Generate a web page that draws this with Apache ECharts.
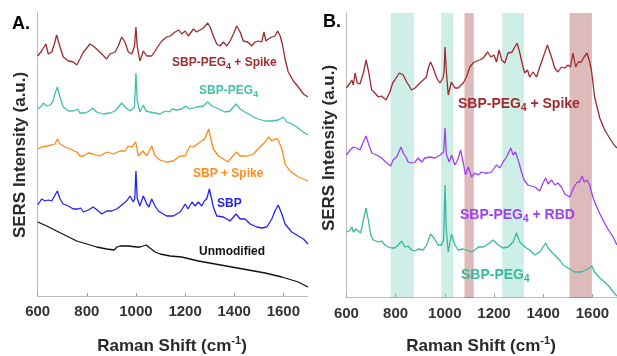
<!DOCTYPE html>
<html><head><meta charset="utf-8">
<script src="https://cdn.jsdelivr.net/npm/echarts@6/dist/echarts.min.js"></script>
<style>html,body{margin:0;padding:0;background:#fff}#c{width:617px;height:356px}</style>
</head><body><div id="c"></div>
<script>
// Raman shift (cm-1) vs intensity (a.u., arbitrary offset units)
const X_MIN = 600, X_MAX = 1700, X_STEP = 200;

// Panel A
const A_PEG_SPIKE = [[600,240],[616,245],[623,244],[633,252],[643,242],[657,244],[668,252],[677,261],[691,249],[704,239],[725,235],[745,234],[759,231],[772,237],[786,244],[800,248],[813,252],[826,250],[840,247],[861,242],[881,237],[894,242],[915,244],[928,250],[942,259],[955,254],[969,244],[983,242],[994,250],[1000,269],[1005,250],[1016,235],[1030,245],[1044,240],[1064,240],[1078,245],[1091,250],[1105,255],[1125,259],[1139,260],[1159,264],[1175,266],[1186,262],[1200,265],[1213,260],[1234,267],[1247,264],[1268,267],[1278,269],[1292,273],[1302,269],[1315,260],[1329,252],[1342,250],[1356,254],[1370,250],[1383,255],[1397,262],[1410,270],[1424,264],[1437,255],[1455,254],[1471,250],[1485,254],[1498,255],[1512,254],[1521,264],[1529,255],[1539,257],[1553,259],[1566,260],[1577,265],[1587,260],[1596,252],[1607,237],[1620,224],[1641,215],[1661,209],[1682,202],[1700,199]];
const A_PEG = [[600,187],[616,190],[623,193],[637,190],[650,191],[661,194],[670,202],[680,209],[691,199],[704,189],[725,185],[745,185],[763,187],[772,183],[793,183],[810,185],[824,188],[840,184],[867,182],[894,183],[915,185],[928,189],[942,193],[955,189],[976,185],[994,189],[1000,223],[1005,196],[1016,184],[1030,191],[1041,185],[1057,184],[1078,183],[1098,182],[1111,184],[1125,185],[1139,184],[1146,187],[1166,186],[1186,187],[1203,190],[1220,187],[1247,189],[1274,190],[1292,194],[1309,190],[1336,187],[1363,184],[1383,185],[1397,189],[1407,192],[1424,187],[1444,184],[1471,180],[1498,177],[1526,175],[1553,175],[1580,176],[1600,179],[1614,174],[1634,172],[1655,169],[1675,165],[1700,161]];
const A_SBP_SPIKE = [[600,147],[616,149],[637,150],[657,151],[670,152],[680,157],[691,152],[711,149],[732,147],[759,144],[772,140],[786,140],[806,143],[826,142],[854,140],[881,144],[908,142],[935,145],[955,145],[969,150],[983,149],[999,154],[1010,140],[1028,145],[1044,140],[1064,150],[1078,140],[1098,136],[1125,134],[1152,135],[1180,140],[1200,140],[1220,150],[1234,149],[1261,154],[1280,157],[1296,167],[1305,157],[1315,147],[1336,140],[1356,137],[1375,134],[1391,139],[1410,144],[1424,140],[1451,140],[1478,142],[1505,149],[1526,154],[1539,159],[1553,155],[1566,157],[1577,157],[1594,147],[1607,132],[1627,125],[1661,119],[1682,117],[1700,115]];
const A_SBP = [[600,91],[616,97],[630,95],[643,96],[657,95],[666,99],[680,105],[691,97],[704,92],[725,90],[745,87],[765,87],[775,88],[786,84],[806,86],[826,89],[847,85],[861,82],[881,85],[901,85],[922,87],[942,91],[962,95],[976,100],[989,94],[995,97],[1000,125],[1005,98],[1016,90],[1030,100],[1044,92],[1053,89],[1064,97],[1078,90],[1091,85],[1111,82],[1125,80],[1152,80],[1180,84],[1201,92],[1212,87],[1228,94],[1241,90],[1254,94],[1268,90],[1278,95],[1288,97],[1299,107],[1315,89],[1329,80],[1356,79],[1383,75],[1397,79],[1408,82],[1424,77],[1444,77],[1465,72],[1492,69],[1512,68],[1533,69],[1553,77],[1566,85],[1579,91],[1594,82],[1607,72],[1634,64],[1661,60],[1682,57],[1700,52]];
const A_UNMOD = [[600,74],[637,70],[677,65],[718,60],[759,55],[800,52],[840,49],[881,47],[911,46],[923,49],[935,50],[968,50],[1003,49],[1017,49],[1025,51],[1041,51],[1057,48],[1078,44],[1098,42],[1139,40],[1186,39],[1254,35],[1322,32],[1390,29],[1458,26],[1526,23],[1594,19],[1661,14],[1700,9]];

// Panel B
const B_PEG_SPIKE = [[600,209],[615,214],[622,217],[628,212],[635,224],[644,214],[655,213],[669,224],[680,237],[689,227],[703,207],[716,204],[730,200],[743,201],[761,197],[777,205],[788,214],[797,217],[815,224],[831,222],[845,215],[865,207],[879,209],[899,214],[925,220],[933,229],[942,235],[953,229],[967,219],[980,214],[993,219],[997,225],[1001,250],[1006,226],[1014,202],[1027,215],[1041,209],[1054,209],[1075,214],[1088,220],[1102,230],[1115,234],[1129,236],[1142,237],[1156,239],[1174,245],[1187,240],[1200,242],[1210,235],[1221,247],[1231,237],[1244,234],[1257,244],[1274,245],[1282,249],[1294,254],[1305,244],[1318,230],[1325,224],[1336,227],[1345,220],[1359,225],[1373,220],[1386,230],[1399,239],[1417,252],[1431,242],[1447,229],[1460,225],[1474,230],[1488,229],[1501,232],[1511,230],[1521,244],[1532,230],[1542,235],[1555,235],[1566,240],[1578,244],[1589,235],[1596,227],[1609,200],[1630,179],[1650,167],[1670,159],[1688,152],[1700,149]];
const B_PEG_RBD = [[600,142],[615,147],[628,150],[642,149],[655,147],[669,155],[680,161],[689,154],[703,144],[723,142],[743,139],[764,134],[780,131],[790,137],[804,140],[815,146],[822,150],[831,144],[842,140],[851,135],[865,134],[879,135],[892,139],[906,135],[919,139],[939,140],[960,139],[982,142],[995,145],[1001,169],[1006,143],[1018,135],[1028,142],[1041,132],[1052,137],[1064,147],[1075,134],[1084,122],[1095,130],[1109,120],[1122,124],[1136,122],[1149,125],[1163,124],[1176,124],[1190,125],[1210,132],[1224,129],[1237,135],[1251,140],[1268,149],[1278,142],[1287,145],[1298,137],[1312,125],[1322,117],[1338,112],[1366,110],[1386,106],[1399,114],[1410,119],[1420,113],[1434,117],[1447,112],[1460,114],[1474,110],[1488,103],[1508,100],[1525,110],[1539,115],[1548,115],[1558,121],[1567,115],[1578,117],[1589,112],[1596,105],[1606,97],[1623,87],[1643,77],[1663,68],[1684,60],[1700,52]];
const B_PEG = [[600,65],[612,66],[622,70],[628,65],[639,68],[648,66],[658,64],[669,77],[680,89],[689,77],[699,62],[709,57],[730,55],[743,56],[757,52],[770,50],[784,49],[797,49],[811,52],[825,56],[838,50],[851,51],[865,47],[879,46],[892,48],[912,47],[926,52],[942,63],[956,59],[973,52],[987,52],[995,57],[1001,112],[1006,67],[1014,45],[1027,63],[1041,52],[1054,47],[1075,48],[1088,47],[1109,45],[1122,47],[1136,50],[1156,50],[1176,53],[1196,57],[1203,59],[1217,52],[1237,49],[1257,50],[1278,55],[1291,64],[1305,55],[1325,50],[1345,47],[1366,42],[1386,45],[1399,50],[1410,54],[1420,49],[1434,45],[1447,42],[1467,37],[1481,32],[1501,29],[1528,25],[1555,25],[1582,28],[1598,31],[1609,25],[1630,19],[1650,15],[1670,10],[1688,4],[1700,1]];

// Highlighted bands in panel B (cm-1)
const B_TEAL_BANDS = [[780,875],[985,1035],[1233,1322]];
const B_RED_BANDS = [[1080,1118],[1507,1598]];

const FONT = "'Liberation Sans', Arial, Helvetica, sans-serif";
const C = {red:'#9e2b2f', teal:'#3fc2a8', orange:'#ff8a1c', blue:'#2323f2', black:'#111111', purple:'#a040f2', tealB:'#38b89c'};

const chart = echarts.init(document.getElementById('c'), null, {renderer:'canvas'});

function xAxisCfg(gi){
  return {type:'value', gridIndex:gi, min:X_MIN, max:X_MAX, interval:X_STEP,
    axisLine:{show:true, lineStyle:{color:'#bdbdbd', width:1}},
    axisTick:{show:true, inside:true, length:3, lineStyle:{color:'#9a9a9a'}},
    axisLabel:{show:true, showMaxLabel:false, margin:8, fontFamily:FONT, fontWeight:'bold', fontSize:15, color:'#333',
      formatter:function(v){ return String(v); }},
    splitLine:{show:false}};
}
function yAxisCfg(gi, mn){
  return {type:'value', gridIndex:gi, min:mn, max:284,
    axisLine:{show:true, lineStyle:{color:'#bdbdbd', width:1}},
    axisTick:{show:false}, axisLabel:{show:false}, splitLine:{show:false}};
}
function line(name, data, color, gi){
  return {name, type:'line', xAxisIndex:gi, yAxisIndex:gi, data, showSymbol:false, symbol:'none',
    lineStyle:{color, width:1.3}, itemStyle:{color}, z:3, silent:true, animation:false};
}
function bands(list){ return list.map(b => [{xAxis:b[0]},{xAxis:b[1]}]); }

function subLabel(x, y, pre, sub, post, color, size){
  const ss = Math.round(size*0.72);
  return {type:'text', x:x, y:y, z:10, style:{
    text:'{a|'+pre+'}'+(sub?'{s|'+sub+'}':'')+(post?'{a|'+post+'}':''),
    align:'left', verticalAlign:'top',
    rich:{
      a:{fontFamily:FONT, fontWeight:'bold', fontSize:size, fill:color, lineHeight:size, verticalAlign:'top'},
      s:{fontFamily:FONT, fontWeight:'bold', fontSize:ss, fill:color, lineHeight:ss, padding:[Math.round(size*0.45),0,0,0], verticalAlign:'top'}
    }}};
}
function xTitle(cx){
  return {type:'text', x:cx, y:345, z:10, style:{
    text:'{t|Raman Shift (cm}{p|-1}{t|)}', align:'center', verticalAlign:'middle',
    rich:{
      t:{fontFamily:FONT, fontWeight:'bold', fontSize:17, fill:'#2a2a2a', lineHeight:20, verticalAlign:'bottom'},
      p:{fontFamily:FONT, fontWeight:'bold', fontSize:11, fill:'#2a2a2a', lineHeight:12, verticalAlign:'top'}
    }}};
}
function yTitle(cx, cy){
  return {type:'text', x:cx, y:cy, rotation:Math.PI/2, z:10, style:{
    text:'SERS Intensity (a.u.)', x:0, y:0, align:'center', verticalAlign:'middle',
    fontFamily:FONT, fontWeight:'bold', fontSize:17, fill:'#2a2a2a'}};
}
function letter(x, y, t){
  return {type:'text', x:x, y:y, z:10, style:{text:t, align:'left', verticalAlign:'middle',
    fontFamily:FONT, fontWeight:'bold', fontSize:18, fill:'#000'}};
}

const option = {
  animation:false,
  backgroundColor:'#fff',
  grid:[
    {left:37.7, top:12, width:270.2, height:284.5, containLabel:false},
    {left:346.4, top:13, width:270.6, height:285, containLabel:false}
  ],
  xAxis:[xAxisCfg(0), xAxisCfg(1)],
  yAxis:[yAxisCfg(0,-0.5), yAxisCfg(1,-1)],
  series:[
    {type:'line', xAxisIndex:1, yAxisIndex:1, data:[], z:1, silent:true,
      markArea:{silent:true, itemStyle:{color:'rgba(60,190,165,0.25)'}, data:bands(B_TEAL_BANDS)}},
    {type:'line', xAxisIndex:1, yAxisIndex:1, data:[], z:1, silent:true,
      markArea:{silent:true, itemStyle:{color:'rgba(150,45,45,0.32)'}, data:bands(B_RED_BANDS)}},
    line('A SBP-PEG4 + Spike', A_PEG_SPIKE, C.red, 0),
    line('A SBP-PEG4', A_PEG, C.teal, 0),
    line('A SBP + Spike', A_SBP_SPIKE, C.orange, 0),
    line('A SBP', A_SBP, C.blue, 0),
    line('A Unmodified', A_UNMOD, C.black, 0),
    line('B SBP-PEG4 + Spike', B_PEG_SPIKE, C.red, 1),
    line('B SBP-PEG4 + RBD', B_PEG_RBD, C.purple, 1),
    line('B SBP-PEG4', B_PEG, C.tealB, 1)
  ],
  graphic:[
    letter(12, 24, 'A.'),
    letter(323, 22, 'B.'),
    yTitle(20, 155),
    yTitle(329, 148),
    xTitle(172),
    xTitle(481),
    subLabel(172, 57, 'SBP-PEG', '4', ' + Spike', C.red, 12),
    subLabel(199, 85, 'SBP-PEG', '4', '', C.teal, 12),
    subLabel(193, 168, 'SBP + Spike', '', '', C.orange, 12),
    subLabel(217, 198, 'SBP', '', '', C.blue, 12),
    subLabel(199, 246, 'Unmodified', '', '', C.black, 12),
    subLabel(458, 97, 'SBP-PEG', '4', ' + Spike', C.red, 14),
    subLabel(460, 208, 'SBP-PEG', '4', ' + RBD', C.purple, 14),
    subLabel(461, 268, 'SBP-PEG', '4', '', C.tealB, 14)
  ]
};
chart.setOption(option);
</script></body></html>
